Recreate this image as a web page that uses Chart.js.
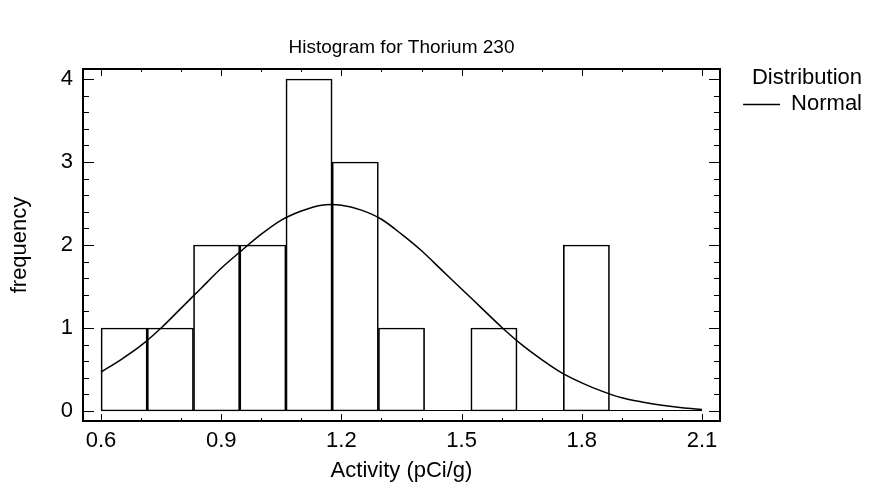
<!DOCTYPE html>
<html>
<head>
<meta charset="utf-8">
<script src="https://cdn.jsdelivr.net/npm/chart.js@4/dist/chart.umd.min.js"></script>
<style>
  html, body { margin: 0; padding: 0; background: #fff; }
  #wrap { width: 881px; height: 493px; position: relative; }
</style>
</head>
<body>
<div id="wrap"><canvas id="hist"></canvas></div>
<script>
const chartTitle = 'Histogram for Thorium 230';
const xTitle = 'Activity (pCi/g)';
const yTitle = 'frequency';
const legendTitle = 'Distribution';
const curveLabel = 'Normal';

// histogram bins (edges) and counts
const binEdges = [0.6, 0.7154, 0.8308, 0.9462, 1.0615, 1.1769, 1.2923, 1.4077, 1.5231, 1.6385, 1.7538, 1.8692, 1.9846, 2.1];
const counts   = [1, 1, 2, 2, 4, 3, 1, 0, 1, 0, 2, 0, 0];

// fitted normal curve
const curveX = [0.60, 0.65, 0.70, 0.75, 0.80, 0.85, 0.90, 0.95, 1.00, 1.05, 1.10, 1.15, 1.20, 1.25, 1.30, 1.35,
                1.40, 1.45, 1.50, 1.55, 1.60, 1.65, 1.70, 1.75, 1.80, 1.85, 1.90, 1.95, 2.00, 2.05, 2.10];
const curveY = [0.47, 0.62, 0.79, 1.00, 1.24, 1.48, 1.72, 1.93, 2.13, 2.30, 2.41, 2.48, 2.48, 2.42, 2.31, 2.13,
                1.93, 1.70, 1.47, 1.24, 1.01, 0.80, 0.62, 0.46, 0.34, 0.24, 0.16, 0.11, 0.07, 0.04, 0.02];

const xTicks = [0.6, 0.9, 1.2, 1.5, 1.8, 2.1];
const xMinorTicks = [0.6, 0.7, 0.8, 0.9, 1.0, 1.1, 1.2, 1.3, 1.4, 1.5, 1.6, 1.7, 1.8, 1.9, 2.0, 2.1];
const yTicks = [0, 1, 2, 3, 4];
const yMinorTicks = [0, 0.2, 0.4, 0.6, 0.8, 1, 1.2, 1.4, 1.6, 1.8, 2, 2.2, 2.4, 2.6, 2.8, 3, 3.2, 3.4, 3.6, 3.8, 4];

const FONT = '"Liberation Sans", Arial, Helvetica, sans-serif';
const FS = 22;
const TITLE_FS = 19;

const barData = counts.map((c, i) => ({ x: (binEdges[i] + binEdges[i + 1]) / 2, y: c }));
const curveData = curveX.map((x, i) => ({ x, y: curveY[i] }));

// baseline under empty bins, drawn before the datasets
const baseline = {
  id: 'baseline',
  beforeDatasetsDraw(chart) {
    const { ctx, scales: { x, y } } = chart;
    const py = Math.round(y.getPixelForValue(0)) - 0.5;
    ctx.save();
    ctx.strokeStyle = '#000';
    ctx.lineWidth = 1;
    ctx.beginPath();
    ctx.moveTo(x.getPixelForValue(binEdges[0]), py);
    ctx.lineTo(x.getPixelForValue(binEdges[binEdges.length - 1]), py);
    ctx.stroke();
    ctx.restore();
  }
};

// frame, inside ticks, title and legend
const decor = {
  id: 'decor',
  afterDraw(chart) {
    const { ctx, chartArea: a, scales: { x, y } } = chart;
    ctx.save();
    ctx.strokeStyle = '#000';
    ctx.lineWidth = 1;
    ctx.beginPath();
    xMinorTicks.forEach(v => {
      const px = Math.round(x.getPixelForValue(v)) + 0.5;
      const len = xTicks.some(t => Math.abs(t - v) < 1e-9) ? 7 : 3;
      ctx.moveTo(px, a.bottom); ctx.lineTo(px, a.bottom - len);
      ctx.moveTo(px, a.top); ctx.lineTo(px, a.top + len);
    });
    yMinorTicks.forEach(v => {
      const py = Math.round(y.getPixelForValue(v)) + 0.5;
      const len = yTicks.some(t => Math.abs(t - v) < 1e-9) ? 11 : 6;
      ctx.moveTo(a.left, py); ctx.lineTo(a.left + len, py);
      ctx.moveTo(a.right, py); ctx.lineTo(a.right - len, py);
    });
    ctx.stroke();
    ctx.lineWidth = 2;
    ctx.strokeRect(a.left, a.top, a.right - a.left, a.bottom - a.top);

    ctx.fillStyle = '#000';
    ctx.textBaseline = 'middle';
    ctx.textAlign = 'center';
    ctx.font = TITLE_FS + 'px ' + FONT;
    ctx.fillText(chartTitle, (a.left + a.right) / 2, 48);

    // legend
    ctx.font = FS + 'px ' + FONT;
    ctx.textAlign = 'right';
    ctx.fillText(legendTitle, 862, 78);
    ctx.fillText(curveLabel, 862, 104);
    const w = ctx.measureText(curveLabel).width;
    ctx.lineWidth = 1.5;
    ctx.beginPath();
    ctx.moveTo(862 - w - 48, 104.5);
    ctx.lineTo(862 - w - 11, 104.5);
    ctx.stroke();
    ctx.restore();
  }
};

new Chart(document.getElementById('hist'), {
  type: 'bar',
  data: {
    datasets: [
      {
        type: 'line', label: curveLabel, data: curveData, order: 0,
        borderColor: '#000', borderWidth: 1.5, pointRadius: 0, tension: 0.3, fill: false
      },
      {
        type: 'bar', label: 'Frequency', data: barData, order: 1,
        backgroundColor: 'rgba(255,255,255,0)', borderColor: '#000', borderWidth: 1,
        barPercentage: 1, categoryPercentage: 1, borderSkipped: false
      }
    ]
  },
  options: {
    responsive: true, maintainAspectRatio: false, animation: false,
    layout: { padding: { top: 69, right: 161, left: 0, bottom: 0 } },
    plugins: { legend: { display: false }, tooltip: { enabled: false }, title: { display: false } },
    scales: {
      x: {
        type: 'linear', offset: false, min: 0.555, max: 2.145,
        afterBuildTicks: s => { s.ticks = xTicks.map(v => ({ value: v })); },
        afterFit: s => { s.height = 72; },
        grid: { display: false, drawTicks: false }, border: { display: false },
        ticks: { color: '#000', padding: 7, maxRotation: 0, autoSkip: false, font: { family: FONT, size: FS }, callback: v => v.toFixed(1) },
        title: { display: true, text: xTitle, color: '#000', font: { family: FONT, size: FS }, padding: { top: 0, bottom: 9 } }
      },
      y: {
        type: 'linear', min: -0.12, max: 4.12,
        afterBuildTicks: s => { s.ticks = yTicks.map(v => ({ value: v })); },
        afterFit: s => { s.width = 83; },
        grid: { display: false, drawTicks: false }, border: { display: false },
        ticks: { color: '#000', padding: 10, font: { family: FONT, size: FS }, callback: v => String(v) },
        title: { display: true, text: yTitle, color: '#000', font: { family: FONT, size: FS }, padding: { top: 7, bottom: 0 } }
      }
    }
  },
  plugins: [baseline, decor]
});
</script>
</body>
</html>
